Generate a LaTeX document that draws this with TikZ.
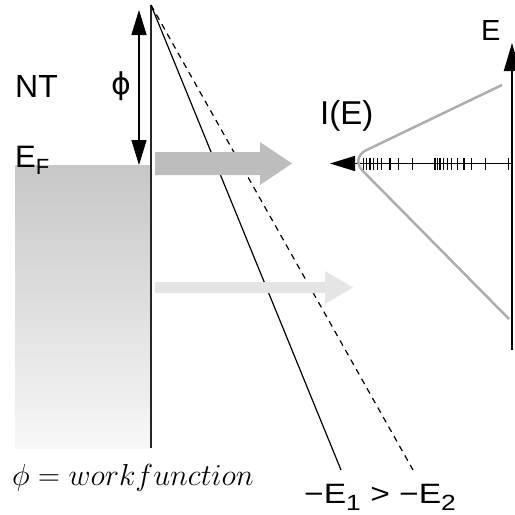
\documentclass[tikz,border=0pt]{standalone}
\usepackage{fontspec}
\setmainfont{Liberation Sans}
\newfontfamily\dejavu{DejaVu Sans}
\usetikzlibrary{arrows.meta}
\definecolor{bigarrow}{gray}{0.74}
\definecolor{lightarrow}{gray}{0.9}
\definecolor{vcurve}{gray}{0.68}
\newcommand{\lowsub}[2]{\raisebox{-0.25em}{\fontsize{#1}{#1}\selectfont #2}}
\begin{document}
\begin{tikzpicture}[x=1pt,y=-1pt,
  lab/.style={inner sep=0pt,font=\fontsize{31}{34}\selectfont},
  bighead/.style={-{Triangle[length=25pt,width=15pt]}},
  tick/.style={line width=1.2pt}]
\useasboundingbox (0,0) rectangle (515,515);
% metal block
\shade[top color=black!22,bottom color=black!3] (15,165) rectangle (150,448);
% surface line
\coordinate (stop) at (151,5);
\coordinate (sbot) at (151,448);
\draw[line width=1.6pt,black!85] (stop) -- (sbot);
% potential lines
\coordinate (e1end) at (341,470);
\coordinate (e2end) at (413,470);
\draw[line width=1.2pt] (stop) -- (e1end);
\draw[line width=1.2pt,dash pattern=on 6pt off 5pt] (stop) -- (e2end);
% phi arrow
\coordinate (ptop) at (139,10);
\coordinate (pbot) at (139,165);
\draw[line width=1.5pt,{Triangle[length=25pt,width=15pt]}-{Triangle[length=25pt,width=15pt]}] (ptop) -- (pbot);
% tunnelling arrows
\fill[bigarrow] (155,152) -- (260,152) -- (260,142) -- (292,163.5) -- (260,185) -- (260,175) -- (155,175) -- cycle;
\fill[lightarrow] (155,282) -- (325,282) -- (325,271) -- (353,287.5) -- (325,304) -- (325,293) -- (155,293) -- cycle;
% spectrum axes
\coordinate (orig) at (512,163.5);
\coordinate (eaxtop) at (512,43);
\coordinate (eaxbot) at (512,350);
\coordinate (iaxend) at (330,163.5);
\draw[line width=2pt,-{Triangle[length=28pt,width=16pt]}] (eaxbot) -- (eaxtop);
\draw[line width=1.5pt,bighead] (orig) -- (iaxend);
\foreach \t in {363.3,366.7,370,373.3,377.3,381.7,390,398.3,412.7,435,437.3,440,443.3,447.3,451.7,457.3,464,471.7,485.7,508.3}
  \draw[tick] (\t,157.5) -- (\t,169.5);
% V-shaped distribution
\coordinate (vtop) at (502,85);
\coordinate (vmid) at (350,158);
\coordinate (vbot) at (509,319);
\draw[vcurve,line width=2.5pt,rounded corners=18pt] (vtop) -- (vmid) -- (vbot);
% labels
\node[lab,anchor=base west,font=\fontsize{32}{34}\selectfont] (nt) at (15,97) {NT};
\node[lab,anchor=base west] (ef) at (15,167) {E\lowsub{22}{F}};
\node[lab,font=\fontsize{30}{32}\selectfont\dejavu] (phi) at (121,86) {ϕ};
\node[lab,anchor=base west,font=\fontsize{29}{32}\selectfont] (elab) at (481,40) {E};
\node[lab,anchor=base west,font=\fontsize{33}{36}\selectfont] (ie) at (320,124) {I(E)};
\node[lab,anchor=base west,font=\fontsize{28}{30}\selectfont] (cmp) at (304,503) {\scalebox{1.2}[1]{−E\lowsub{22}{1} > −E\lowsub{22}{2}}};
\node[inner sep=0pt,anchor=base west,font=\fontsize{24}{28}\selectfont] (wf) at (12,485) {\scalebox{1.22}{$\phi = workfunction$}};
\end{tikzpicture}
\end{document}
